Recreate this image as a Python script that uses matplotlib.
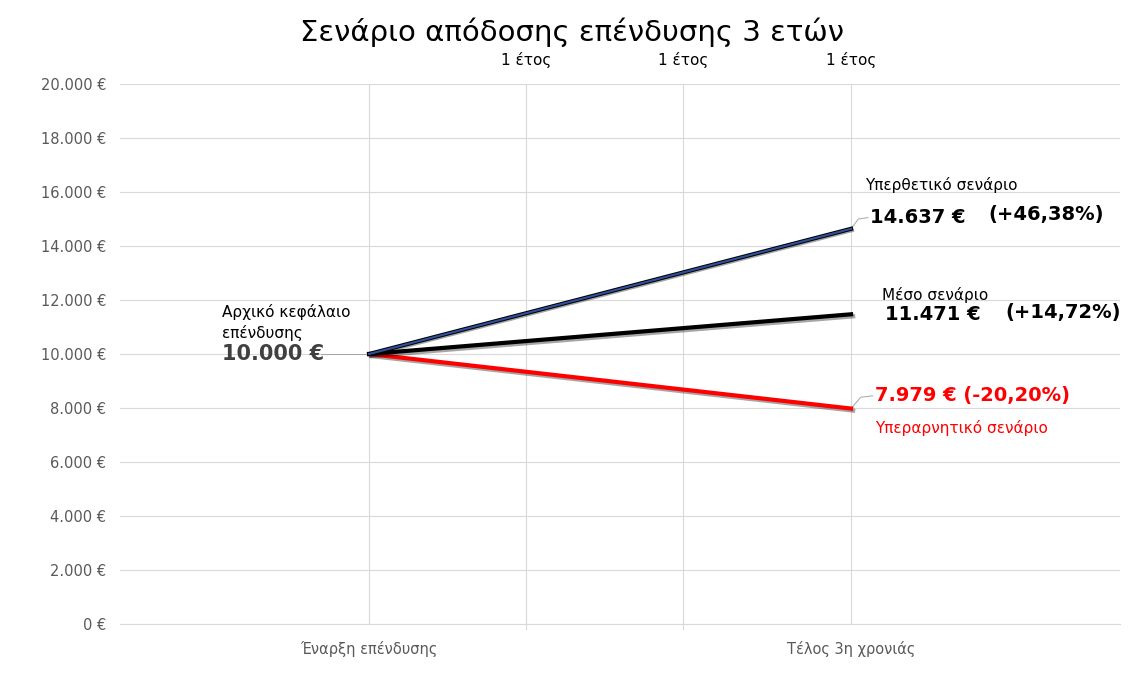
import matplotlib
matplotlib.use("Agg")
import matplotlib.pyplot as plt
import matplotlib.patheffects as pe

plt.rcParams['font.family'] = ['Verdana', 'DejaVu Sans']

x_pos = [0.0, 1.0]
x_labels = ["Έναρξη επένδυσης", "Τέλος 3η χρονιάς"]
year_marks = [0.326, 0.651, 1.0]
year_labels = ["1 έτος", "1 έτος", "1 έτος"]
optimistic = [10000, 14637]
average = [10000, 11471]
pessimistic = [10000, 7979]
yticks = list(range(0, 20001, 2000))

fig = plt.figure(figsize=(11.43, 6.89), dpi=100)
ax = fig.add_axes([120/1143, 1-624/689, 1000/1143, 540/689])
ax.set_xlim(-0.517, 1.558)
ax.set_ylim(0, 20000)

for y in yticks:
    ax.axhline(y, color="#d9d9d9", lw=0.8, zorder=0)
for xm in [0.0] + year_marks:
    ax.axvline(xm, color="#d9d9d9", lw=0.8, zorder=0)

shadow = [pe.SimpleLineShadow(offset=(1.5, -1.5), alpha=0.35), pe.Normal()]
ax.plot(x_pos, pessimistic, color="red", lw=3, path_effects=shadow, zorder=3)
ax.plot(x_pos, average, color="black", lw=3, path_effects=shadow, zorder=3)
ax.plot(x_pos, optimistic, color="#2f4f9f", lw=1.5,
        path_effects=[pe.SimpleLineShadow(offset=(1.5, -1.5), alpha=0.35),
                      pe.Stroke(linewidth=3, foreground="black"), pe.Normal()], zorder=4)

ax.set_yticks(yticks)
ax.set_yticklabels([f"{v:,}".replace(",", ".") + " €" for v in yticks], color="#595959", fontsize=10.5)
ax.set_xticks(x_pos)
ax.set_xticklabels(x_labels, color="#595959", fontsize=10.5)
ax.tick_params(axis="x", which="both", length=0, pad=12)
ax.tick_params(axis="y", length=0, pad=10)
for s in ["top", "right", "left"]:
    ax.spines[s].set_visible(False)
ax.spines["bottom"].set_color("#d9d9d9")
for xm in year_marks[:2]:
    ax.plot([xm, xm], [0, -200], color="#d9d9d9", lw=0.8, clip_on=False)

for xm, lab in zip(year_marks, year_labels):
    ax.text(xm, 20600, lab, ha="center", va="bottom", fontsize=11)

fig.suptitle("Σενάριο απόδοσης επένδυσης 3 ετών", y=0.975, fontsize=21, va="top")

def fmt(v):
    return f"{v:,}".replace(",", ".") + " €"

# Initial
ax.text(-0.305, 10480, "Αρχικό κεφάλαιο\nεπένδυσης", fontsize=11, ha="left", va="bottom", linespacing=1.4)
ax.text(-0.305, 10000, fmt(optimistic[0]), fontsize=15, fontweight="bold", color="#404040", va="center")
ax.plot([-0.1, 0.0], [10000, 10000], color="#a6a6a6", lw=0.7)

# Optimistic
ax.text(1.03, 15950, "Υπερθετικό σενάριο", fontsize=11, va="bottom")
ax.text(1.04, 15050, fmt(optimistic[1]), fontsize=14, fontweight="bold", va="center")
ax.text(1.285, 15150, "(+46,38%)", fontsize=14, fontweight="bold", va="center")
ax.plot([1.0, 1.015, 1.035], [14637, 15000, 15050], color="#a6a6a6", lw=0.7)

# Average
ax.text(1.065, 11880, "Μέσο σενάριο", fontsize=11, va="bottom")
ax.text(1.07, 11450, fmt(average[1]), fontsize=14, fontweight="bold", va="center")
ax.text(1.32, 11520, "(+14,72%)", fontsize=14, fontweight="bold", va="center")

# Pessimistic
ax.text(1.05, 8450, fmt(pessimistic[1]) + " (-20,20%)", fontsize=14, fontweight="bold", color="red", va="center")
ax.text(1.05, 7250, "Υπεραρνητικό σενάριο", fontsize=11, color="red", va="center")
ax.plot([1.0, 1.02, 1.045], [7979, 8400, 8450], color="#a6a6a6", lw=0.7)

fig.savefig("out.png", dpi=100)
